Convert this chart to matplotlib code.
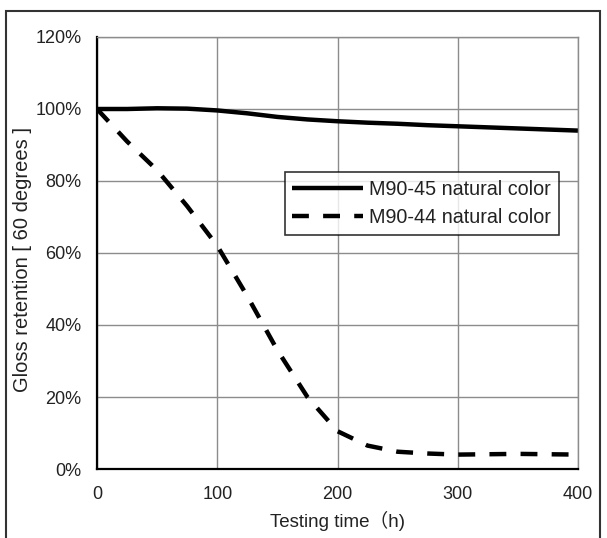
import matplotlib.pyplot as plt
from matplotlib.patches import Rectangle
from matplotlib.ticker import PercentFormatter

# testing time (h) and gloss retention (%)
hours = [0, 25, 50, 75, 100, 125, 150, 175, 200, 225, 250, 275, 300, 325, 350, 375, 400]
m90_45 = [100, 100, 100.2, 100.1, 99.6, 98.8, 97.8, 97.1, 96.6, 96.2, 95.9, 95.5, 95.2, 94.9, 94.6, 94.3, 94.0]
m90_44 = [100, 91, 83, 73, 62, 48, 33, 20, 10.5, 6.5, 4.8, 4.3, 4.0, 4.1, 4.2, 4.1, 4.0]

labels = ["M90-45 natural color", "M90-44 natural color"]
xticks = [0, 100, 200, 300, 400]
yticks = [0, 20, 40, 60, 80, 100, 120]

plt.rcParams["font.family"] = ["Liberation Sans", "Noto Sans CJK JP", "DejaVu Sans"]
text_col = "#222222"

fig = plt.figure(figsize=(6.07, 5.38), dpi=100)
ax = fig.add_axes([97 / 607, 1 - 469 / 538, 481 / 607, 432 / 538])

ax.plot(hours, m90_45, color="black", lw=3.2, label=labels[0], solid_capstyle="butt")
ax.plot(hours, m90_44, color="black", lw=3.2, label=labels[1], dashes=(3.8, 3.2))

ax.set_xlim(0, 400)
ax.set_ylim(0, 120)
ax.set_xticks(xticks)
ax.set_yticks(yticks)
ax.yaxis.set_major_formatter(PercentFormatter(decimals=0))
ax.tick_params(length=0, labelsize=13, colors=text_col)
ax.tick_params(axis="x", pad=12)
ax.tick_params(axis="y", pad=11)
ax.grid(True, color="#8c8c8c", lw=1)
ax.set_axisbelow(True)

for s in ["top", "right"]:
    ax.spines[s].set_color("#8c8c8c")
    ax.spines[s].set_linewidth(1)
for s in ["left", "bottom"]:
    ax.spines[s].set_color("black")
    ax.spines[s].set_linewidth(1.6)

ax.set_xlabel("Testing time（h)", fontsize=13.5, color=text_col, labelpad=6)
ax.set_ylabel("Gloss retention [ 60 degrees ]", fontsize=14.5, color=text_col)
ax.yaxis.set_label_coords(-0.135, 0.485)

leg = ax.legend(loc="upper left", bbox_to_anchor=(0.39, 0.687), fontsize=14.2,
                frameon=True, fancybox=False, handlelength=3.6, borderpad=0.4,
                labelspacing=0.45, handletextpad=0.3, borderaxespad=0)
leg.get_frame().set_edgecolor("black")
leg.get_frame().set_linewidth(1.2)
for t in leg.get_texts():
    t.set_color(text_col)

# outer chart border
fig.patches.append(Rectangle((6 / 607, -0.02), 594 / 607, 1.02 - 11 / 538,
                             transform=fig.transFigure, fill=False,
                             edgecolor="#333333", lw=1.5))

fig.savefig("out.png", dpi=100)
